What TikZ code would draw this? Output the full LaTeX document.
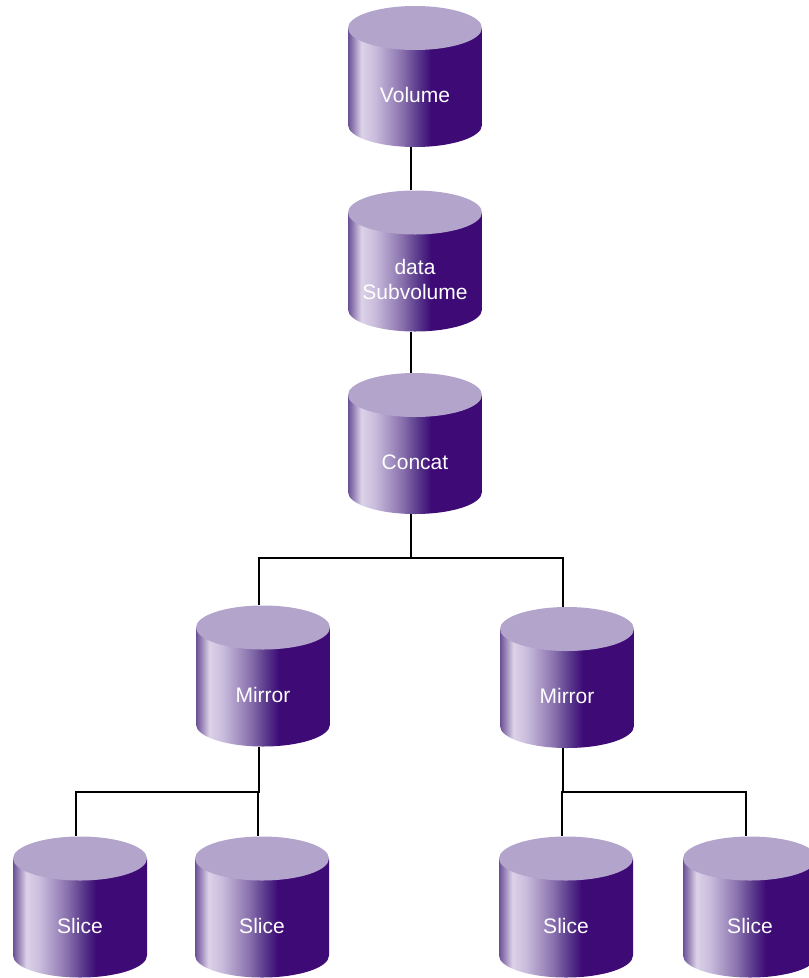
\documentclass[tikz,border=0pt]{standalone}
\usepackage{fontspec}
\setmainfont{Liberation Sans}
\definecolor{drumtop}{HTML}{B3A4CC}
\definecolor{drumedge}{HTML}{6B4F95}
\definecolor{drumlight}{HTML}{DCD2E8}
\definecolor{drumpale}{HTML}{C9BCDC}
\definecolor{drummid}{HTML}{8A72AE}
\definecolor{drumdeep}{HTML}{5A3A8C}
\definecolor{drumdark}{HTML}{3D0A76}
\pgfdeclarehorizontalshading{drumbody}{100bp}{color(0bp)=(drumedge); color(25bp)=(drumedge); color(30bp)=(drumlight); color(35bp)=(drumpale); color(45bp)=(drummid); color(51bp)=(drumdeep); color(56bp)=(drumdark); color(100bp)=(drumdark)}
\tikzset{
  drum/.style={
    minimum width=134pt,
    minimum height=141pt,
    inner sep=0pt,
    text=white,
    align=center,
    font=\fontsize{21pt}{25pt}\selectfont,
    execute at begin node={\rule{0pt}{#1}},
    text depth=5pt,
    path picture={
      \shade[shading=drumbody] ([yshift=-22pt]path picture bounding box.north west)
        -- ([yshift=22pt]path picture bounding box.south west)
        arc[start angle=180, end angle=360, x radius=67pt, y radius=22pt]
        -- ([yshift=-22pt]path picture bounding box.north east) -- cycle;
      \fill[drumtop] ([yshift=-22pt]path picture bounding box.north)
        ellipse[x radius=67pt, y radius=22pt];
    }
  },
  drum/.default=57pt,
  link/.style={line width=2.2pt}
}
\begin{document}
\begin{tikzpicture}[x=1pt,y=1pt]
\useasboundingbox (0,0) rectangle (809,-978);
\node[drum] (vol) at (415,-76.5) {Volume};
\node[drum=82pt] (sub) at (415,-261) {data\\Subvolume};
\node[drum] (cc) at (415,-443.5) {Concat};
\node[drum] (mirL) at (263,-676) {Mirror};
\node[drum] (mirR) at (567,-677.5) {Mirror};
\foreach \nm/\x in {slA/80, slB/262, slC/566, slD/750}{
    \node[drum] (\nm) at (\x,-907) {Slice};
}
\coordinate (busC) at (0,-558);
\coordinate (busM) at (0,-792);
\foreach \a/\b in {vol/sub, sub/cc}{
    \draw[link] ([xshift=-4pt]\a.south) -- ([xshift=-4pt]\b.north);
}
\foreach \a/\b/\bus in {cc/mirL/busC, cc/mirR/busC, mirL/slA/busM, mirL/slB/busM, mirR/slC/busM, mirR/slD/busM}{
    \draw[link] ([xshift=-4pt]\a.south) -- ([xshift=-4pt]\a.south |- \bus) -| ([xshift=-4pt]\b.north);
}
\end{tikzpicture}
\end{document}
